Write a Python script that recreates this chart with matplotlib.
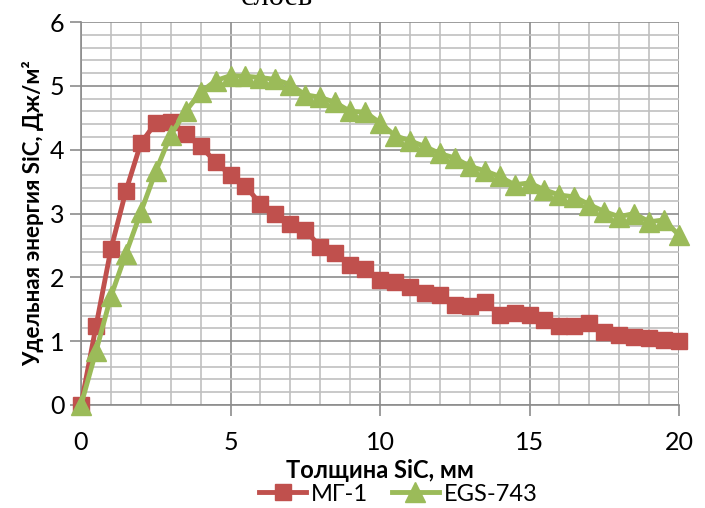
import matplotlib
matplotlib.use("Agg")
import matplotlib.pyplot as plt
import numpy as np
from matplotlib.ticker import MultipleLocator

# thickness, mm
thickness = np.arange(0, 20.5, 0.5)

# MG-1 series
mg1 = [0.00, 1.23, 2.44, 3.35, 4.10, 4.42, 4.44, 4.24, 4.05, 3.81,
       3.60, 3.43, 3.15, 3.00, 2.84, 2.74, 2.48, 2.38, 2.19, 2.13,
       1.96, 1.93, 1.85, 1.75, 1.72, 1.57, 1.55, 1.62, 1.41, 1.44,
       1.41, 1.33, 1.23, 1.24, 1.28, 1.15, 1.10, 1.07, 1.05, 1.02,
       1.01]

# EGS-743 series
egs = [0.00, 0.84, 1.70, 2.37, 3.02, 3.66, 4.23, 4.60, 4.90, 5.08,
       5.16, 5.15, 5.13, 5.10, 5.02, 4.86, 4.82, 4.74, 4.60, 4.59,
       4.42, 4.22, 4.14, 4.05, 3.94, 3.87, 3.74, 3.67, 3.58, 3.45,
       3.48, 3.37, 3.29, 3.26, 3.14, 3.03, 2.95, 3.00, 2.87, 2.90,
       2.66]

labels = ["МГ-1", "EGS-743"]

plt.rcParams["font.family"] = ["Lato", "DejaVu Sans"]

fig = plt.figure(figsize=(7.05, 5.08), dpi=100)
ax = fig.add_axes([81 / 705, 1 - 405 / 508, 598 / 705, 383 / 508])

ax.plot(thickness, mg1, color="#C0504D", lw=3.5, marker="s", ms=12,
        label=labels[0], clip_on=False, zorder=3)
ax.plot(thickness, egs, color="#9BBB59", lw=3.5, marker="^", ms=14,
        label=labels[1], clip_on=False, zorder=4)

ax.set_xlim(0, 20)
ax.set_ylim(0, 6)
ax.xaxis.set_major_locator(MultipleLocator(5))
ax.xaxis.set_minor_locator(MultipleLocator(1))
ax.yaxis.set_major_locator(MultipleLocator(1))
ax.yaxis.set_minor_locator(MultipleLocator(0.2))
ax.grid(which="major", color="#8c8c8c", lw=1.2)
ax.grid(which="minor", color="#c0c0c0", lw=1.2)
ax.set_axisbelow(True)

for s in ["top", "right"]:
    ax.spines[s].set_visible(False)
for s in ["left", "bottom"]:
    ax.spines[s].set_color("#8c8c8c")
    ax.spines[s].set_linewidth(1.2)

ax.tick_params(which="major", length=8, width=1.2, color="#8c8c8c",
               labelsize=18)
ax.tick_params(axis="x", which="major", pad=11)
ax.tick_params(axis="y", which="major", pad=4)
ax.tick_params(which="minor", length=0)

ax.set_xlabel("Толщина SiC, мм", fontsize=17, fontweight="bold", labelpad=3)
ax.set_ylabel("Удельная энергия SiC, Дж/м²", fontsize=16, fontweight="bold",
              labelpad=4)

fig.legend(loc="lower center", bbox_to_anchor=(0.565, -0.035), ncol=2,
           frameon=False, fontsize=17, handlelength=2.0, columnspacing=1.0,
           handletextpad=0.2)

fig.text(0.393, 1 - 5 / 508, "слоев", fontsize=22, family="Liberation Serif",
         ha="center", va="baseline")

fig.savefig("out.png", dpi=100)
